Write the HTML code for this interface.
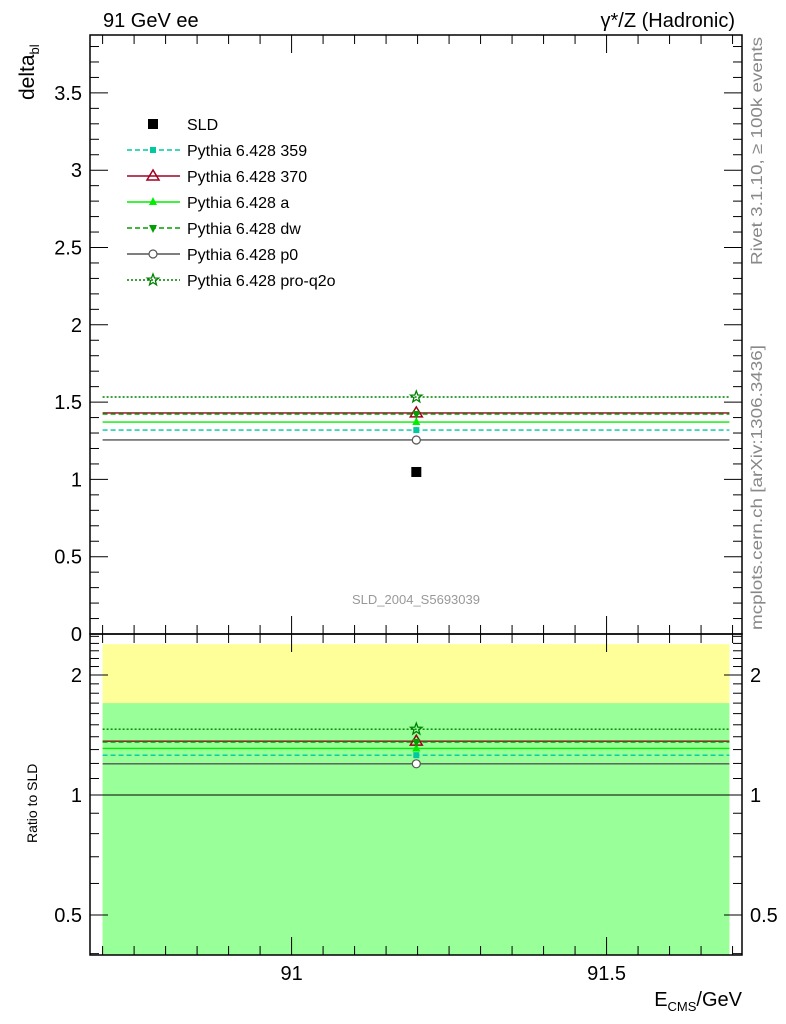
<!DOCTYPE html>
<html><head><meta charset="utf-8"><style>
html,body{margin:0;padding:0;background:#fff;}
svg{display:block;font-family:"Liberation Sans",sans-serif;}
</style></head><body>
<svg id="chart" width="786" height="1024" viewBox="0 0 786 1024" xmlns="http://www.w3.org/2000/svg">
<text x="103" y="27" font-size="20">91 GeV ee</text>
<text x="735" y="27" font-size="20" text-anchor="end">γ*/Z (Hadronic)</text>
<text transform="translate(34,100) rotate(-90)" font-size="21">delta<tspan font-size="13" dy="5">bl</tspan></text>
<text transform="translate(37,843) rotate(-90)" font-size="14">Ratio to SLD</text>
<text x="742" y="1006" font-size="20" text-anchor="end">E<tspan font-size="13" dy="5">CMS</tspan><tspan dy="-5">/GeV</tspan></text>
<text transform="translate(762,265) rotate(-90)" font-size="16" fill="#888" textLength="228" lengthAdjust="spacingAndGlyphs">Rivet 3.1.10, ≥ 100k events</text>
<text transform="translate(762,630) rotate(-90)" font-size="16" fill="#888" textLength="285" lengthAdjust="spacingAndGlyphs">mcplots.cern.ch [arXiv:1306.3436]</text>
<text x="416" y="604" font-size="13" fill="#999" text-anchor="middle">SLD_2004_S5693039</text>
<g id="g"></g>
</svg>
<script>
const xRange = [90.68, 91.715];
const binEdges = [90.70, 91.695];
const binCenter = 91.198;
const sldValue = 1.048;
const seriesNames = ["Pythia 6.428 359","Pythia 6.428 370","Pythia 6.428 a","Pythia 6.428 dw","Pythia 6.428 p0","Pythia 6.428 pro-q2o"];
const seriesValues = [1.319, 1.43, 1.371, 1.423, 1.255, 1.533];
const yTicks = [0,0.5,1,1.5,2,2.5,3,3.5];
const yTickLabels = ["0","0.5","1","1.5","2","2.5","3","3.5"];
const xTicks = [91, 91.5];
const xTickLabels = ["91","91.5"];
const ratioTicks = [0.5,1,2];
const ratioTickLabels = ["0.5","1","2"];
const bandYellow = [0.397, 2.39];
const bandGreen = [0.397, 1.70];

const styles = [
 {c:"#00c8a0",dash:"5,3",m:"sq"},
 {c:"#a00020",dash:"",m:"tri"},
 {c:"#00ee00",dash:"",m:"ftri"},
 {c:"#00a000",dash:"5,3",m:"dtri"},
 {c:"#555",dash:"",m:"circ"},
 {c:"#008000",dash:"2,2",m:"star"}];
const L=90,R=742,T=35,MB=634,RB=955;
const X=v=>L+(v-xRange[0])/(xRange[1]-xRange[0])*(R-L);
const Y=v=>MB-v*154.6;
const RY=v=>795-Math.log10(v)*398.7;
const g=document.getElementById('g');
const NS="http://www.w3.org/2000/svg";
function el(t,a,p){const e=document.createElementNS(NS,t);for(const k in a)e.setAttribute(k,a[k]);(p||g).appendChild(e);return e;}
let e=el('rect',{x:X(binEdges[0]),y:RY(bandYellow[1]),width:X(binEdges[1])-X(binEdges[0]),height:RY(bandYellow[0])-RY(bandYellow[1]),fill:'#ffff99'});


e=el('rect',{x:X(binEdges[0]),y:RY(bandGreen[1]),width:X(binEdges[1])-X(binEdges[0]),height:RY(bandGreen[0])-RY(bandGreen[1]),fill:'#99ff99'});


e=el('line',{x1:L,x2:R,y1:RY(1),y2:RY(1),stroke:'#000','stroke-width':1});


function marker(type,x,y,c,parent){
 let m;
 if(type==='sq')m=el('rect',{x:x-3,y:y-3,width:6,height:6,fill:c},parent);
 else if(type==='tri')m=el('polygon',{points:`${x},${y-6} ${x-6},${y+4} ${x+6},${y+4}`,fill:'none',stroke:c,'stroke-width':1.5},parent);
 else if(type==='ftri')m=el('polygon',{points:`${x},${y-5} ${x-4},${y+3} ${x+4},${y+3}`,fill:c},parent);
 else if(type==='dtri')m=el('polygon',{points:`${x},${y+5} ${x-4},${y-3} ${x+4},${y-3}`,fill:c},parent);
 else if(type==='circ')m=el('circle',{cx:x,cy:y,r:4,fill:'#fff',stroke:c,'stroke-width':1.2},parent);
 else {let p=[];for(let i=0;i<10;i++){const r=i%2?2.5:6,a=-Math.PI/2+i*Math.PI/5;p.push((x+r*Math.cos(a)).toFixed(1)+','+(y+r*Math.sin(a)).toFixed(1));}
  m=el('polygon',{points:p.join(' '),fill:'none',stroke:c,'stroke-width':1.3},parent);}
 return m;
}
seriesValues.forEach((v,i)=>{
 const s=styles[i];
 [[Y(v)],[RY(v/sldValue)]].forEach((yy,k)=>{
  const y=yy[0];
  let ln=el('line',{x1:X(binEdges[0]),x2:X(binEdges[1]),y1:y,y2:y,stroke:s.c,'stroke-width':1.4,'stroke-dasharray':s.dash});
  
  
  let mk=marker(s.m,X(binCenter),y,s.c);
  
  
 });
});
e=el('rect',{x:X(binCenter)-5,y:Y(sldValue)-5,width:10,height:10,fill:'#000'});


[[T,MB],[MB,RB]].forEach((f,i)=>{
 let r=el('rect',{x:L,y:f[0],width:R-L,height:f[1]-f[0],fill:'none',stroke:'#000','stroke-width':1.5});
 
 
});
for(let k=0;k<=38;k++){const v=k/10,y=Y(v);if(y<T)continue;const big=k%5===0;
 el('line',{x1:L,x2:L+(big?18:9),y1:y,y2:y,stroke:'#000'});el('line',{x1:R,x2:R-(big?18:9),y1:y,y2:y,stroke:'#000'});}
yTicks.forEach((v,i)=>{let t=el('text',{x:L-8,y:Y(v)+7,'font-size':20,'text-anchor':'end'});t.textContent=yTickLabels[i];
 
 });
const minor=[0.4,0.5,0.6,0.7,0.8,0.9,1,1.1,1.2,1.3,1.4,1.5,1.6,1.7,1.8,1.9,2,2.1,2.2,2.3,2.4,2.5];
minor.forEach(v=>{const y=RY(v);if(y<MB||y>RB)return;const big=ratioTicks.includes(v);
 el('line',{x1:L,x2:L+(big?18:9),y1:y,y2:y,stroke:'#000'});el('line',{x1:R,x2:R-(big?18:9),y1:y,y2:y,stroke:'#000'});});
ratioTicks.forEach((v,i)=>{
 let t=el('text',{x:L-8,y:RY(v)+7,'font-size':20,'text-anchor':'end'});t.textContent=ratioTickLabels[i];
 
 
 t=el('text',{x:R+8,y:RY(v)+7,'font-size':20});t.textContent=ratioTickLabels[i];
 
 });
for(let k=0;k<=21;k++){const v=90.7+k*0.05,x=X(v);if(x<L||x>R)continue;
 const big=Math.abs(v-91)<1e-6||Math.abs(v-91.5)<1e-6;const len=big?18:9;
 [T,MB,RB].forEach(b=>{if(b!==T)el('line',{x1:x,x2:x,y1:b,y2:b-len,stroke:'#000'});if(b!==RB)el('line',{x1:x,x2:x,y1:b,y2:b+len,stroke:'#000'});});}
xTicks.forEach((v,i)=>{let t=el('text',{x:X(v),y:980,'font-size':20,'text-anchor':'middle'});t.textContent=xTickLabels[i];
 
 });
const lg=el('g',{});


el('rect',{x:148,y:119,width:10,height:10,fill:'#000'},lg);
let tt=el('text',{x:187,y:130,'font-size':16},lg);tt.textContent='SLD';


seriesNames.forEach((n,i)=>{const y=150+i*26,s=styles[i];
 el('line',{x1:127,x2:180,y1:y,y2:y,stroke:s.c,'stroke-width':1.4,'stroke-dasharray':s.dash},lg);
 marker(s.m,153,y,s.c,lg);
 let t=el('text',{x:187,y:y+6,'font-size':16},lg);t.textContent=n;
 
 });
</script>
</body></html>
